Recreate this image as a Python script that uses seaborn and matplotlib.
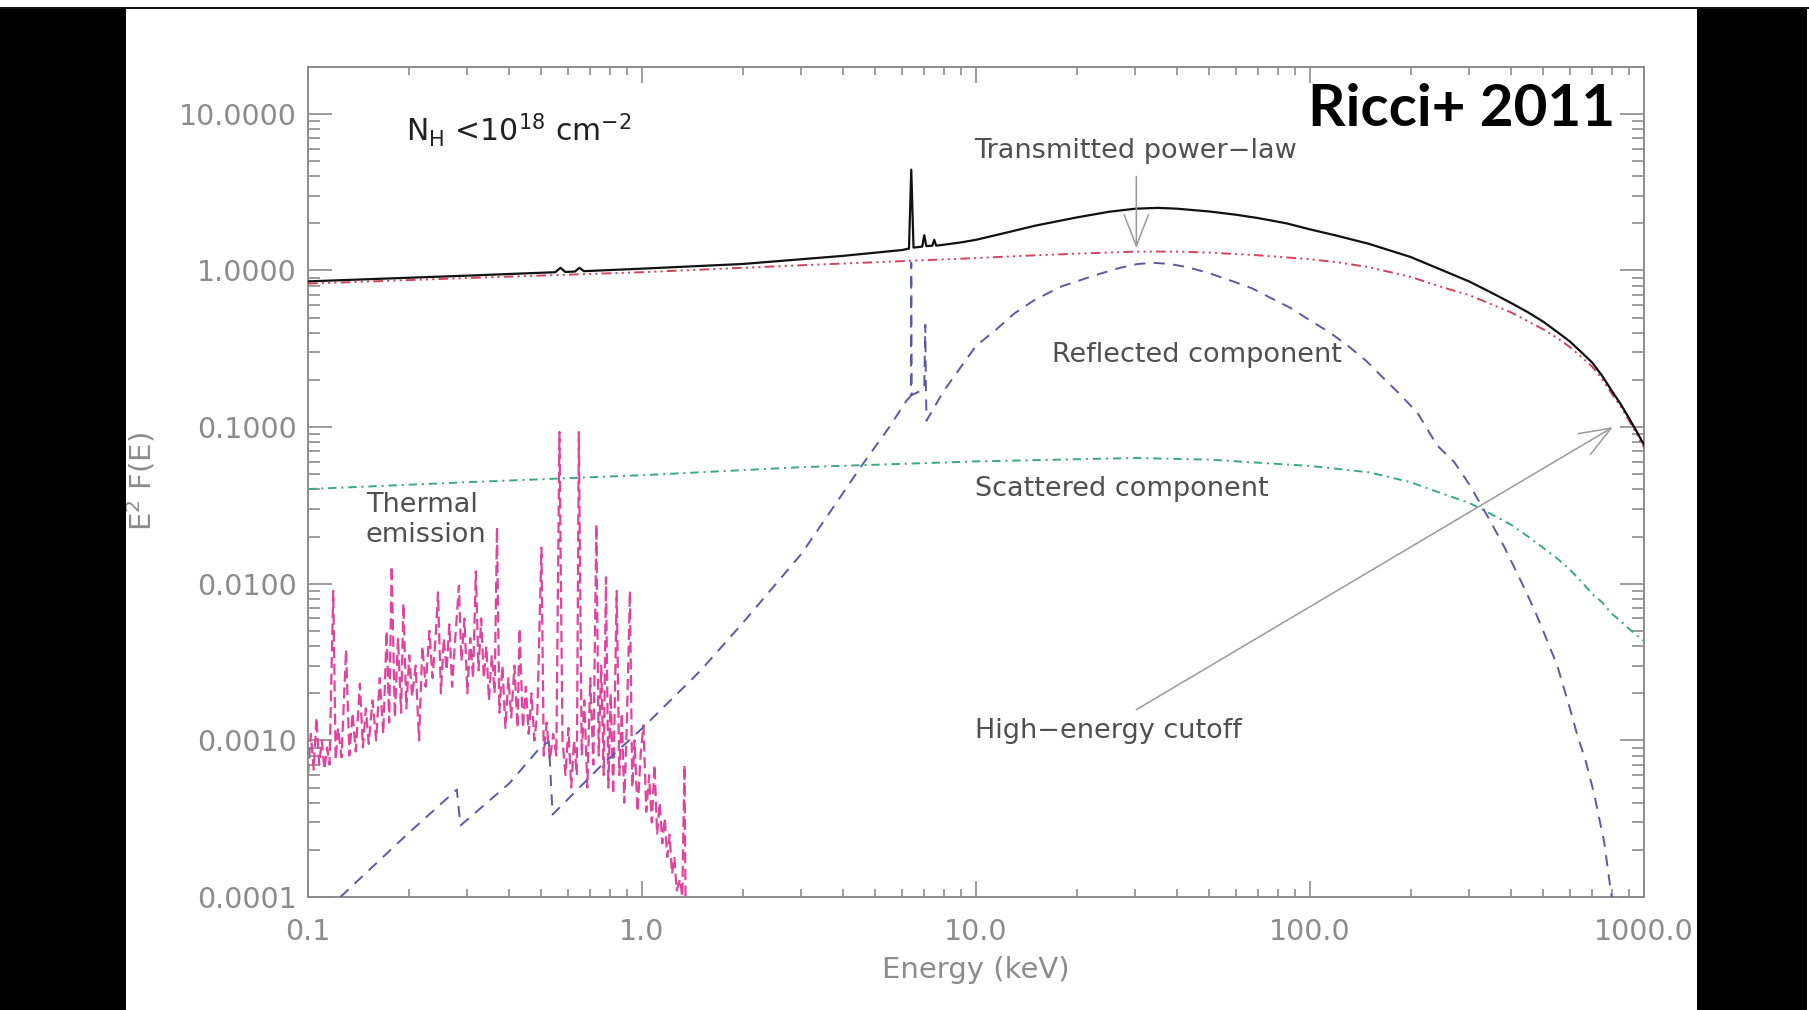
import matplotlib
matplotlib.use("Agg")
import matplotlib.pyplot as plt
from matplotlib.patches import Rectangle
from matplotlib.ticker import LogLocator, NullFormatter, FixedLocator
import numpy as np
import pandas as pd
import seaborn as sns

# ---- spectral components (energy in keV, E^2 F(E)) ----
total_energy = [0.1, 0.3, 0.55, 0.57, 0.59, 0.63, 0.65, 0.67, 1.0, 2.0, 4.0, 6.0, 6.3,
                6.4, 6.5, 6.9, 7.0, 7.1, 7.4, 7.5, 7.6, 8.0, 9.0, 10.0, 12.0, 15.0,
                20.0, 25.0, 30.0, 35.0, 40.0, 50.0, 60.0, 70.0, 85.0, 100.0, 120.0,
                150.0, 200.0, 250.0, 300.0, 350.0, 400.0, 450.0, 500.0, 550.0, 600.0,
                650.0, 700.0, 750.0, 800.0, 850.0, 900.0, 950.0, 1000.0]
total_flux = [0.852, 0.927, 0.975, 1.04, 0.978, 0.985, 1.04, 0.99, 1.027, 1.10, 1.24, 1.35,
              1.38, 4.4, 1.40, 1.42, 1.68, 1.43, 1.44, 1.57, 1.44, 1.46, 1.51, 1.57, 1.72,
              1.93, 2.18, 2.37, 2.48, 2.51, 2.48, 2.38, 2.27, 2.16, 2.00, 1.83, 1.67,
              1.48, 1.22, 1.00, 0.85, 0.72, 0.62, 0.54, 0.47, 0.405, 0.352, 0.30,
              0.258, 0.212, 0.171, 0.141, 0.115, 0.094, 0.077]

powerlaw_energy = [0.1, 0.3, 1.0, 3.0, 10.0, 15.0, 20.0, 30.0, 40.0, 50.0, 70.0, 100.0,
                   120.0, 150.0, 200.0, 250.0, 300.0, 350.0, 400.0, 450.0, 500.0, 550.0,
                   600.0, 650.0, 700.0, 750.0, 800.0, 850.0, 900.0, 950.0, 1000.0]
powerlaw_flux = [0.824, 0.895, 0.975, 1.08, 1.20, 1.25, 1.28, 1.32, 1.32, 1.30, 1.25, 1.18,
                 1.13, 1.05, 0.91, 0.78, 0.695, 0.607, 0.54, 0.473, 0.42, 0.371, 0.324,
                 0.280, 0.243, 0.202, 0.164, 0.136, 0.111, 0.0906, 0.074]

reflected_energy = [0.125, 0.2, 0.279, 0.286, 0.4, 0.498, 0.526, 0.54, 0.75, 1.0, 1.5,
                    2.0, 3.0, 4.0, 4.5, 5.5, 6.2, 6.38, 6.40, 6.42, 7.0, 7.05, 7.08,
                    7.11, 8.0, 10.0, 11.5, 13.0, 15.0, 18.0, 23.0, 27.0, 30.5, 34.0,
                    38.0, 43.0, 50.0, 59.0, 67.0, 75.0, 87.0, 100.0, 115.0, 130.0,
                    147.0, 165.0, 187.0, 210.0, 240.0, 270.0, 300.0, 340.0, 380.0,
                    430.0, 470.0, 505.0, 550.0, 595.0, 630.0, 670.0, 710.0, 760.0, 800.0]
reflected_flux = [1.0e-4, 2.56e-4, 4.85e-4, 2.86e-4, 5.3e-4, 9.1e-4, 9.8e-4, 3.36e-4,
                  6.8e-4, 1.19e-3, 2.8e-3, 5.6e-3, 0.0155, 0.038, 0.055, 0.10, 0.148,
                  0.158, 1.12, 0.16, 0.175, 0.45, 0.18, 0.11, 0.17, 0.33, 0.42, 0.53,
                  0.65, 0.79, 0.94, 1.04, 1.10, 1.12, 1.10, 1.05, 0.96, 0.85, 0.77,
                  0.68, 0.58, 0.48, 0.40, 0.33, 0.266, 0.208, 0.16, 0.123, 0.0765,
                  0.060, 0.043, 0.027, 0.0175, 0.0102, 0.0068, 0.0047, 0.0030, 0.0017,
                  0.0011, 7.3e-4, 4.5e-4, 2.24e-4, 1.0e-4]

scattered_energy = [0.1, 0.3, 1.0, 3.0, 10.0, 30.0, 50.0, 100.0, 150.0, 200.0, 250.0,
                    300.0, 350.0, 400.0, 450.0, 500.0, 550.0, 600.0, 650.0, 700.0,
                    750.0, 800.0, 850.0, 900.0, 950.0, 1000.0]
scattered_flux = [0.0402, 0.0445, 0.0493, 0.0555, 0.0604, 0.0635, 0.062, 0.0565, 0.0515,
                  0.0445, 0.0375, 0.0328, 0.0277, 0.0238, 0.0200, 0.0169, 0.0145, 0.0123,
                  0.0103, 0.0086, 0.0076, 0.00644, 0.0058, 0.00517, 0.0047, 0.0043]

thermal_energy = [0.100, 0.102, 0.104, 0.106, 0.108, 0.110, 0.112, 0.114, 0.116, 0.119,
                  0.121, 0.123, 0.126, 0.130, 0.133, 0.136, 0.139, 0.143, 0.146, 0.149,
                  0.152, 0.156, 0.160, 0.164, 0.168, 0.172, 0.175, 0.178, 0.182, 0.186,
                  0.190, 0.193, 0.197, 0.201, 0.205, 0.210, 0.215, 0.220, 0.225, 0.231,
                  0.236, 0.241, 0.245, 0.250, 0.255, 0.260, 0.265, 0.270, 0.275, 0.283,
                  0.288, 0.294, 0.300, 0.306, 0.312, 0.318, 0.324, 0.330, 0.336, 0.342,
                  0.348, 0.355, 0.362, 0.368, 0.374, 0.382, 0.390, 0.398, 0.406, 0.415,
                  0.424, 0.430, 0.440, 0.449, 0.458, 0.467, 0.476, 0.486, 0.500, 0.508,
                  0.518, 0.530, 0.542, 0.554, 0.566, 0.578, 0.590, 0.602, 0.614, 0.626,
                  0.638, 0.647, 0.660, 0.672, 0.686, 0.700, 0.715, 0.730, 0.742, 0.755,
                  0.768, 0.780, 0.793, 0.806, 0.820, 0.840, 0.855, 0.870, 0.885, 0.900,
                  0.920, 0.935, 0.950, 0.970, 0.990, 1.010, 1.030, 1.050, 1.070, 1.090,
                  1.110, 1.130, 1.150, 1.170, 1.190, 1.210, 1.230, 1.250, 1.270, 1.300,
                  1.320, 1.340, 1.350]
thermal_flux = [6.0e-4, 1.1e-3, 6.5e-4, 1.4e-3, 7.0e-4, 1.0e-3, 6.5e-4, 9.0e-4, 7.0e-4,
                9.0e-3, 7.5e-4, 1.2e-3, 7.8e-4, 3.8e-3, 8.0e-4, 1.5e-3, 8.5e-4, 2.3e-3,
                9.0e-4, 1.6e-3, 9.5e-4, 1.8e-3, 1.0e-3, 2.5e-3, 1.1e-3, 5.0e-3, 1.3e-3,
                1.3e-2, 1.4e-3, 4.5e-3, 1.5e-3, 7.5e-3, 1.6e-3, 3.5e-3, 1.9e-3, 3.0e-3,
                1.0e-3, 4.0e-3, 2.2e-3, 5.0e-3, 2.5e-3, 4.5e-3, 8.8e-3, 2.0e-3, 4.5e-3,
                2.8e-3, 5.5e-3, 2.2e-3, 4.0e-3, 9.7e-3, 3.2e-3, 6.0e-3, 2.0e-3, 4.5e-3,
                2.5e-3, 1.2e-2, 2.8e-3, 6.0e-3, 2.5e-3, 4.0e-3, 1.8e-3, 3.5e-3, 2.0e-3,
                2.3e-2, 1.5e-3, 3.0e-3, 1.2e-3, 2.5e-3, 1.4e-3, 3.0e-3, 1.2e-3, 5.2e-3,
                1.2e-3, 2.2e-3, 1.1e-3, 2.0e-3, 1.0e-3, 1.5e-3, 1.7e-2, 8.0e-4, 1.3e-3,
                7.5e-4, 1.1e-3, 8.0e-4, 9.3e-2, 1.0e-3, 6.0e-4, 1.2e-3, 5.0e-4, 1.0e-3,
                6.0e-4, 9.3e-2, 8.0e-4, 1.8e-3, 5.0e-4, 2.5e-3, 7.0e-4, 2.4e-2, 8.0e-4,
                3.0e-3, 6.0e-4, 1.1e-2, 5.0e-4, 2.0e-3, 4.5e-4, 9.0e-3, 6.0e-4, 1.5e-3,
                4.0e-4, 1.2e-3, 9.0e-3, 5.0e-4, 1.0e-3, 3.5e-4, 8.0e-4, 1.25e-3, 3.5e-4,
                6.0e-4, 3.0e-4, 7.0e-4, 2.5e-4, 4.0e-4, 2.2e-4, 3.2e-4, 1.8e-4, 2.5e-4,
                1.4e-4, 1.8e-4, 1.1e-4, 1.3e-4, 1.0e-4, 7.0e-4, 1.0e-4]

x_tick_values = [0.1, 1.0, 10.0, 100.0, 1000.0]
x_tick_labels = ["0.1", "1.0", "10.0", "100.0", "1000.0"]
y_tick_values = [1e-4, 1e-3, 1e-2, 1e-1, 1.0, 10.0]
y_tick_labels = ["0.0001", "0.0010", "0.0100", "0.1000", "1.0000", "10.0000"]

# ---- style ----
sns.set_theme(style="white")
plt.rcParams["font.family"] = ["DejaVu Sans"]
plt.rcParams["mathtext.fontset"] = "dejavusans"
plt.rcParams["lines.scale_dashes"] = False

W, H = 1809, 1010
fig = plt.figure(figsize=(W / 100, H / 100), dpi=100, facecolor="white")
ax_left, ax_right, ax_top, ax_bottom = 308, 1644, 66.7, 897
ax = fig.add_axes([ax_left / W, (H - ax_bottom) / H,
                   (ax_right - ax_left) / W, (ax_bottom - ax_top) / H])
ax.set_facecolor("white")
ax.set_xscale("log")
ax.set_yscale("log")

axis_grey = "#8c8c8c"
text_grey = "#505050"


def draw(energy, flux, color, lw, dashes=None, z=2):
    sns.lineplot(x=energy, y=flux, ax=ax, color=color, linewidth=lw,
                 estimator=None, sort=False, zorder=z)
    line = ax.lines[-1]
    if dashes is not None:
        line.set_dashes(dashes)
    line.set_solid_joinstyle("round")
    return line


draw(thermal_energy, thermal_flux, "#e0449c", 1.6, (8, 4), z=2)
draw(scattered_energy, scattered_flux, "#3aa882", 1.4, (6, 3.5, 1.5, 3.5), z=2)
draw(reflected_energy, reflected_flux, "#5a5aa2", 1.4, (8, 6), z=3)
draw(powerlaw_energy, powerlaw_flux, "#d2445e", 1.4,
     (7, 3, 1.5, 3, 1.5, 3, 1.5, 3), z=3)
draw(total_energy, total_flux, "#111111", 1.6, None, z=4)

ax.set_xlim(0.1, 1000)
ax.set_ylim(1e-4, 20)

# ---- axes frame and ticks ----
for sp in ax.spines.values():
    sp.set_visible(True)
    sp.set_color(axis_grey)
    sp.set_linewidth(1.4)

ax.xaxis.set_major_locator(FixedLocator(x_tick_values))
ax.yaxis.set_major_locator(FixedLocator(y_tick_values))
ax.set_xticklabels(x_tick_labels)
ax.set_yticklabels(y_tick_labels)
ax.xaxis.set_minor_locator(LogLocator(base=10, subs=range(2, 10), numticks=20))
ax.yaxis.set_minor_locator(LogLocator(base=10, subs=range(2, 10), numticks=20))
ax.xaxis.set_minor_formatter(NullFormatter())
ax.yaxis.set_minor_formatter(NullFormatter())

ax.tick_params(which="both", direction="in", top=True, right=True,
               bottom=True, left=True, color=axis_grey, width=1.2,
               labelcolor=axis_grey, labelsize=20.5)
ax.tick_params(axis="x", which="major", length=11.5, pad=15)
ax.tick_params(axis="x", which="minor", length=5.5)
ax.tick_params(axis="y", which="major", length=17, pad=8)
ax.tick_params(axis="y", which="minor", length=8.5)

ax.set_xlabel("Energy (keV)", fontsize=21, color=axis_grey)
ax.set_ylabel(r"E$^{2}$ F(E)", fontsize=21, color=axis_grey)
ax.xaxis.set_label_coords(0.5, -0.071)
ax.yaxis.set_label_coords(-0.1125, 0.5)

# ---- annotations ----
ax.text(0.197, 7.9, r"N$_{\rm H}$ <10$^{18}$ cm$^{-2}$", fontsize=21.5,
        color="#222222", ha="left", va="center")
ax.text(820, 10.7, "Ricci+ 2011", fontsize=42, fontweight="bold",
        family=["Lato", "DejaVu Sans"], color="black", ha="right", va="center",
        zorder=6)
ann_size = 19.5
ax.text(9.9, 5.8, "Transmitted power\u2212law", fontsize=ann_size, color=text_grey,
        ha="left", va="center")
ax.text(16.9, 0.288, "Reflected component", fontsize=ann_size, color=text_grey,
        ha="left", va="center")
ax.text(9.9, 0.0402, "Scattered component", fontsize=ann_size, color=text_grey,
        ha="left", va="center")
ax.text(0.149, 0.0317, "Thermal", fontsize=ann_size, color=text_grey,
        ha="left", va="center")
ax.text(0.149, 0.0204, "emission", fontsize=ann_size, color=text_grey,
        ha="left", va="center")
ax.text(9.9, 1.14e-3, "High\u2212energy cutoff", fontsize=ann_size, color=text_grey,
        ha="left", va="center")

arrow_kw = dict(arrowstyle="->,head_length=0.9,head_width=0.35",
                color="#9a9a9a", lw=1.1, mutation_scale=25,
                shrinkA=0, shrinkB=0)
ax.annotate("", xy=(30.2, 1.39), xytext=(30.2, 3.99), arrowprops=arrow_kw, zorder=5)
ax.annotate("", xy=(807, 0.1), xytext=(30.2, 1.57e-3), arrowprops=arrow_kw, zorder=5)

# ---- dark frame around the slide ----
fig.add_artist(Rectangle((0, 0), 126 / W, (H - 9) / H, transform=fig.transFigure,
                         facecolor="black", edgecolor="none", zorder=10))
fig.add_artist(Rectangle((1697 / W, 0), 110 / W, (H - 9) / H,
                         transform=fig.transFigure, facecolor="black",
                         edgecolor="none", zorder=10))
fig.add_artist(Rectangle((0, (H - 9.3) / H), 1, 2.6 / H, transform=fig.transFigure,
                         facecolor="#111111", edgecolor="none", zorder=10))

fig.savefig("out.png", dpi=100, facecolor="white")
